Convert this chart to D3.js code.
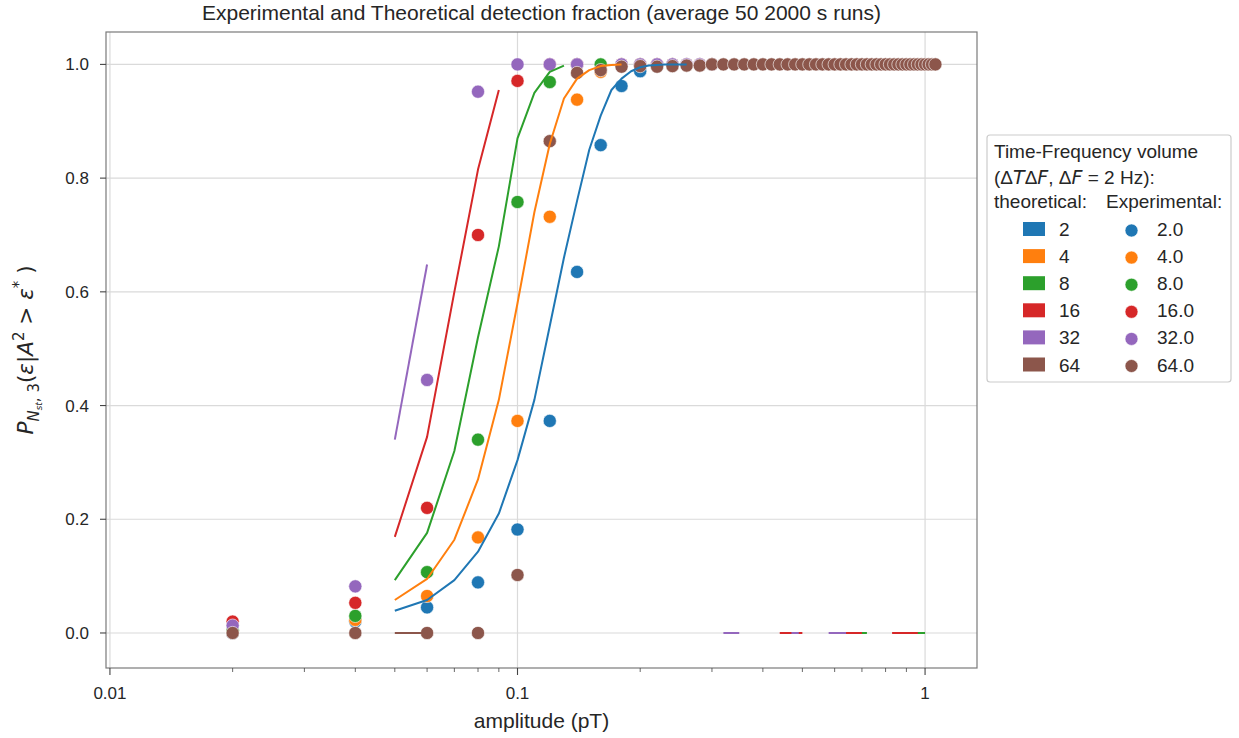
<!DOCTYPE html>
<html>
<head>
<meta charset="utf-8">
<script src="https://cdn.jsdelivr.net/npm/d3@7"></script>
<style>
  html, body { margin: 0; padding: 0; background: #fff; }
  svg { display: block; }
  text { font-family: "Liberation Sans", Arial, sans-serif; fill: #262626; }
  .math { font-family: "DejaVu Sans", sans-serif; }
</style>
</head>
<body>
<svg id="chart" width="1239" height="738"></svg>
<script>
// ---- data ----------------------------------------------------------------
const volumes = [2, 4, 8, 16, 32, 64];
const expLabels = ["2.0", "4.0", "8.0", "16.0", "32.0", "64.0"];
const colors = ["#1f77b4", "#ff7f0e", "#2ca02c", "#d62728", "#9467bd", "#8c564b"];

// amplitudes (pT) of the experimental runs
const expAmp = [0.02, 0.04, 0.06, 0.08, 0.10, 0.12, 0.14, 0.16, 0.18, 0.20,
                0.22, 0.24, 0.26, 0.28, 0.30, 0.32, 0.34, 0.36, 0.38, 0.40,
                0.42, 0.44, 0.46, 0.48, 0.50, 0.52, 0.54, 0.56, 0.58, 0.60,
                0.62, 0.64, 0.66, 0.68, 0.70, 0.72, 0.74, 0.76, 0.78, 0.80,
                0.82, 0.84, 0.86, 0.88, 0.90, 0.92, 0.94, 0.96, 0.98, 1.00,
                1.02, 1.04, 1.06];

// measured detection fraction per time-frequency volume
const exp2  = [0.000, 0.020, 0.045, 0.089, 0.182, 0.373, 0.635, 0.858, 0.962, 0.988, 0.997, 1, 1, 1, 1];
const exp4  = [0.003, 0.023, 0.065, 0.168, 0.373, 0.732, 0.938, 0.987, 1, 1, 1, 1, 1, 1, 1];
const exp8  = [0.005, 0.030, 0.107, 0.340, 0.758, 0.969, 1, 1, 1, 1, 1, 1, 1, 1, 1];
const exp16 = [0.020, 0.053, 0.220, 0.700, 0.971, 1, 1, null, 1, 1, 1, 1, 1, 1, 1];
const exp32 = [0.013, 0.082, 0.445, 0.952, 1, 1, 1, null, 1, 1, 1, 1, 1, 1, 1];
const exp64 = [0, 0, 0, 0, 0.102, 0.865, 0.985, 0.990, 0.996, 0.997,
               0.996, 0.997, 0.998, 0.998, 1, 1, 1, 1, 1, 1,
               1, 1, 1, 1, 1, 1, 1, 1, 1, 1,
               1, 1, 1, 1, 1, 1, 1, 1, 1, 1,
               1, 1, 1, 1, 1, 1, 1, 1, 1, 1,
               1, 1, 1];

// amplitudes (pT) of the theoretical curves
const theoAmp = [0.05, 0.06, 0.07, 0.08, 0.09, 0.10, 0.11, 0.12, 0.13, 0.14, 0.15,
                 0.16, 0.17, 0.18, 0.19, 0.20, 0.21, 0.22, 0.23, 0.24, 0.25, 0.26];

const theo2  = [0.039, 0.058, 0.093, 0.143, 0.210, 0.304, 0.410, 0.540, 0.660, 0.760, 0.850,
                0.910, 0.955, 0.975, 0.988, 0.995, 0.998, 0.999, 1, 1, 1, 1];
const theo4  = [0.058, 0.095, 0.164, 0.270, 0.410, 0.580, 0.740, 0.860, 0.940, 0.975, 0.990,
                0.997, 0.999, 1];
const theo8  = [0.093, 0.176, 0.320, 0.520, 0.680, 0.870, 0.950, 0.987, 0.998];
const theo16 = [0.169, 0.345, 0.600, 0.815, 0.955];
const theo32 = [0.340, 0.648];
const theo64 = [0, 0];

// amplitude ranges where the theoretical probability evaluates to zero
const zero2  = [];
const zero4  = [];
const zero8  = [[0.66, 0.72], [0.90, 1.00]];
const zero16 = [[0.44, 0.50], [0.60, 0.70], [0.83, 0.96]];
const zero32 = [[0.32, 0.35], [0.47, 0.49], [0.58, 0.64]];
const zero64 = [];

const yTicks = [0.0, 0.2, 0.4, 0.6, 0.8, 1.0];
const xTicks = [0.01, 0.1, 1];
const xTickLabels = ["0.01", "0.1", "1"];
const xMinor = [0.02, 0.03, 0.04, 0.05, 0.06, 0.07, 0.08, 0.09,
                0.2, 0.3, 0.4, 0.5, 0.6, 0.7, 0.8, 0.9];

const expSeries  = [exp2, exp4, exp8, exp16, exp32, exp64];
const theoSeries = [theo2, theo4, theo8, theo16, theo32, theo64];
const zeroSeries = [zero2, zero4, zero8, zero16, zero32, zero64];

// ---- layout ----------------------------------------------------------------
const plot = { left: 106, right: 977, top: 32, bottom: 668 };
const svg = d3.select("#chart");

const x = d3.scaleLog().domain([0.00978, 1.341]).range([plot.left, plot.right]);
const y = d3.scaleLinear().domain([-0.0616, 1.057]).range([plot.bottom, plot.top]);

// grid
const grid = svg.append("g");
grid.selectAll("line.hg").data(yTicks).join("line")
  .attr("x1", plot.left).attr("x2", plot.right)
  .attr("y1", d => y(d)).attr("y2", d => y(d))
  .attr("stroke", "#dadada").attr("stroke-width", 1.2);
grid.selectAll("line.vg").data(xTicks).join("line")
  .attr("y1", plot.top).attr("y2", plot.bottom)
  .attr("x1", d => x(d)).attr("x2", d => x(d))
  .attr("stroke", "#dadada").attr("stroke-width", 1.2);

// experimental points (drawn below the lines)
const pts = svg.append("g");
expSeries.forEach((vals, i) => {
  const data = vals.map((v, k) => ({ a: expAmp[k], v })).filter(d => d.v !== null);
  pts.append("g").selectAll("circle").data(data).join("circle")
    .attr("cx", d => x(d.a)).attr("cy", d => y(d.v)).attr("r", 6.6)
    .attr("fill", colors[i]).attr("stroke", "#fff").attr("stroke-width", 0.6);
});

// theoretical curves
const line = d3.line().x(d => x(d.a)).y(d => y(d.v));
const lines = svg.append("g").attr("fill", "none").attr("stroke-width", 2)
  .attr("stroke-linejoin", "round").attr("stroke-linecap", "butt");
theoSeries.forEach((vals, i) => {
  const data = vals.map((v, k) => ({ a: theoAmp[k], v }));
  lines.append("path").attr("d", line(data)).attr("stroke", colors[i]);
  zeroSeries[i].forEach(r => {
    lines.append("path").attr("d", line([{ a: r[0], v: 0 }, { a: r[1], v: 0 }]))
      .attr("stroke", colors[i]);
  });
});

// spines
svg.append("rect")
  .attr("x", plot.left).attr("y", plot.top)
  .attr("width", plot.right - plot.left).attr("height", plot.bottom - plot.top)
  .attr("fill", "none").attr("stroke", "#7a7a7a").attr("stroke-width", 1.2);

// y axis
const yAxis = svg.append("g");
yAxis.selectAll("line").data(yTicks).join("line")
  .attr("x1", plot.left - 6).attr("x2", plot.left)
  .attr("y1", d => y(d)).attr("y2", d => y(d))
  .attr("stroke", "#444").attr("stroke-width", 1.1);
yAxis.selectAll("text").data(yTicks).join("text")
  .attr("x", plot.left - 17).attr("y", d => y(d) + 6)
  .attr("text-anchor", "end").attr("font-size", 17)
  .text(d => d3.format(".1f")(d));

// x axis
const xAxis = svg.append("g");
xAxis.selectAll("line.maj").data(xTicks).join("line").attr("class", "maj")
  .attr("x1", d => x(d)).attr("x2", d => x(d))
  .attr("y1", plot.bottom).attr("y2", plot.bottom + 7)
  .attr("stroke", "#444").attr("stroke-width", 1.1);
xAxis.selectAll("line.min").data(xMinor).join("line").attr("class", "min")
  .attr("x1", d => x(d)).attr("x2", d => x(d))
  .attr("y1", plot.bottom).attr("y2", plot.bottom + 4)
  .attr("stroke", "#444").attr("stroke-width", 0.8);
xAxis.selectAll("text").data(xTicks).join("text")
  .attr("x", d => x(d)).attr("y", plot.bottom + 31)
  .attr("text-anchor", "middle").attr("font-size", 17)
  .text((d, i) => xTickLabels[i]);

// title and axis labels
svg.append("text")
  .attr("x", (plot.left + plot.right) / 2).attr("y", 20)
  .attr("text-anchor", "middle").attr("font-size", 21)
  .text("Experimental and Theoretical detection fraction (average 50 2000 s runs)");

svg.append("text")
  .attr("x", (plot.left + plot.right) / 2).attr("y", 728)
  .attr("text-anchor", "middle").attr("font-size", 21)
  .text("amplitude (pT)");

const yl = svg.append("text").attr("class", "math")
  .attr("transform", "translate(33,350) rotate(-90)")
  .attr("text-anchor", "middle").attr("font-size", 21.5);
yl.append("tspan").attr("font-style", "italic").text("P");
yl.append("tspan").attr("font-style", "italic").attr("font-size", 15).attr("dy", 5.5).text("N");
yl.append("tspan").attr("font-style", "italic").attr("font-size", 9).attr("dy", 3).text("st");
yl.append("tspan").attr("font-size", 15).attr("dy", -3).text(", 3");
yl.append("tspan").attr("dy", -5.5).text("(");
yl.append("tspan").attr("font-style", "italic").text("ε");
yl.append("tspan").text("|");
yl.append("tspan").attr("font-style", "italic").text("A");
yl.append("tspan").attr("font-size", 15).attr("dy", -9).text("2");
yl.append("tspan").attr("dy", 9).text(" > ");
yl.append("tspan").attr("font-style", "italic").text("ε");
yl.append("tspan").attr("font-size", 15).attr("dy", -9).text("*");
yl.append("tspan").attr("dy", 9).text(" )");

// legend
const lfs = 19;
const lg = svg.append("g");
lg.append("rect").attr("x", 987).attr("y", 135).attr("width", 244).attr("height", 247)
  .attr("rx", 3).attr("fill", "#fff").attr("stroke", "#cccccc").attr("stroke-width", 1.2);
lg.append("text").attr("x", 994).attr("y", 158).attr("font-size", lfs).text("Time-Frequency volume");
const l2 = lg.append("text").attr("x", 994).attr("y", 184).attr("font-size", lfs);
l2.append("tspan").text("(Δ");
l2.append("tspan").attr("class", "math").attr("font-style", "italic").text("T");
l2.append("tspan").text("Δ");
l2.append("tspan").attr("class", "math").attr("font-style", "italic").text("F");
l2.append("tspan").text(", Δ");
l2.append("tspan").attr("class", "math").attr("font-style", "italic").text("F");
l2.append("tspan").text(" = 2 Hz):");
lg.append("text").attr("x", 994).attr("y", 208).attr("font-size", lfs).text("theoretical:");
lg.append("text").attr("x", 1106).attr("y", 208).attr("font-size", lfs).text("Experimental:");

volumes.forEach((v, i) => {
  const cy = 229 + i * 27.1;
  lg.append("rect").attr("x", 1023).attr("y", cy - 7).attr("width", 22).attr("height", 14)
    .attr("fill", colors[i]);
  lg.append("text").attr("x", 1059).attr("y", cy + 7).attr("font-size", lfs).text(String(v));
  lg.append("circle").attr("cx", 1131.5).attr("cy", cy + 1.5).attr("r", 6.5)
    .attr("fill", colors[i]).attr("stroke", "#fff").attr("stroke-width", 0.6);
  lg.append("text").attr("x", 1157).attr("y", cy + 7).attr("font-size", lfs).text(expLabels[i]);
});
</script>
</body>
</html>
